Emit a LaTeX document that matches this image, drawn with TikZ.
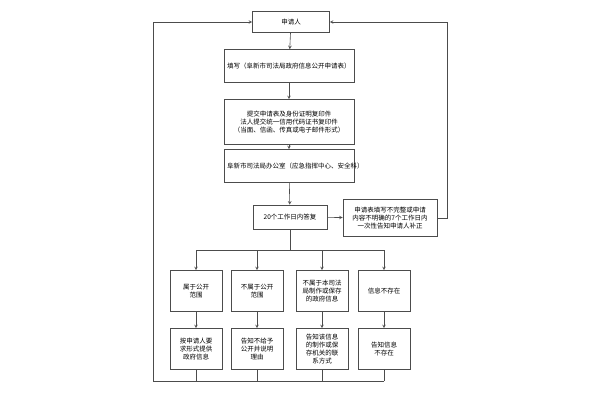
\documentclass[tikz,border=0pt]{standalone}
\usepackage{fontspec}
\setmainfont{Noto Sans CJK SC}
\usetikzlibrary{arrows}
\begin{document}
\begin{tikzpicture}[x=1pt,y=-1pt,>=stealth,semithick,draw=black!70,
  font=\fontsize{6.5}{8}\selectfont]
  \tikzset{box/.style={draw=black!70,fill=white,inner sep=2pt,align=center}}
  \useasboundingbox (0,0) rectangle (600,400);
  \node[box,minimum width=77pt,minimum height=21pt] (A) at (291,22) {申请人};
  \node[box,minimum width=130pt,minimum height=33pt,text width=124pt,align=left] (B) at (289,66) {填写（阜新市司法局政府信息公开申请表）};
  \node[box,minimum width=130pt,minimum height=45pt] (C) at (289,122) {提交申请表及身份证明复印件\\法人提交统一信用代码证书复印件\\（当面、信函、传真或电子邮件形式）};
  \node[box,minimum width=130pt,minimum height=33pt,text width=124pt,align=left] (D) at (289,166) {阜新市司法局办公室（应急指挥中心、安全科）};
  \node[box,minimum width=74pt,minimum height=24pt] (E) at (290,217) {20个工作日内答复};
  \node[box,minimum width=94pt,minimum height=37pt] (F) at (390,218) {申请表填写不完整或申请\\内容不明确的7个工作日内\\一次性告知申请人补正};
  \foreach \i/\x/\t/\b in {1/196/属于公开\\范围/按申请人要\\求形式提供\\政府信息,
                          2/257/不属于公开\\范围/告知不给予\\公开并说明\\理由,
                          3/322/不属于本司法\\局制作或保存\\的政府信息/告知该信息\\的制作或保\\存机关的联\\系方式,
                          4/384/信息不存在/告知信息\\不存在}{
    \node[box,minimum width=52pt,minimum height=41pt] (T\i) at (\x,291) {\t};
    \node[box,minimum width=52pt,minimum height=41pt] (U\i) at (\x,349) {\b};
    \draw[->] (T\i) -- (U\i);
    \draw[->] (E.south) |- (\x,250) -- (T\i.north);
    \draw (U\i.south) -- (\x,381);
  }
  \draw[->] (A) -- (B);
  \draw[->] (B) -- (C);
  \draw[->] (C) -- (D);
  \draw[->] (D) -- (E);
  \draw[->] (E) -- (F);
  \draw[->] (F.east) -| (447,22) -- (A.east);
  \draw[->] (384,381) -- (153,381) |- (A.west);
\end{tikzpicture}
\end{document}
